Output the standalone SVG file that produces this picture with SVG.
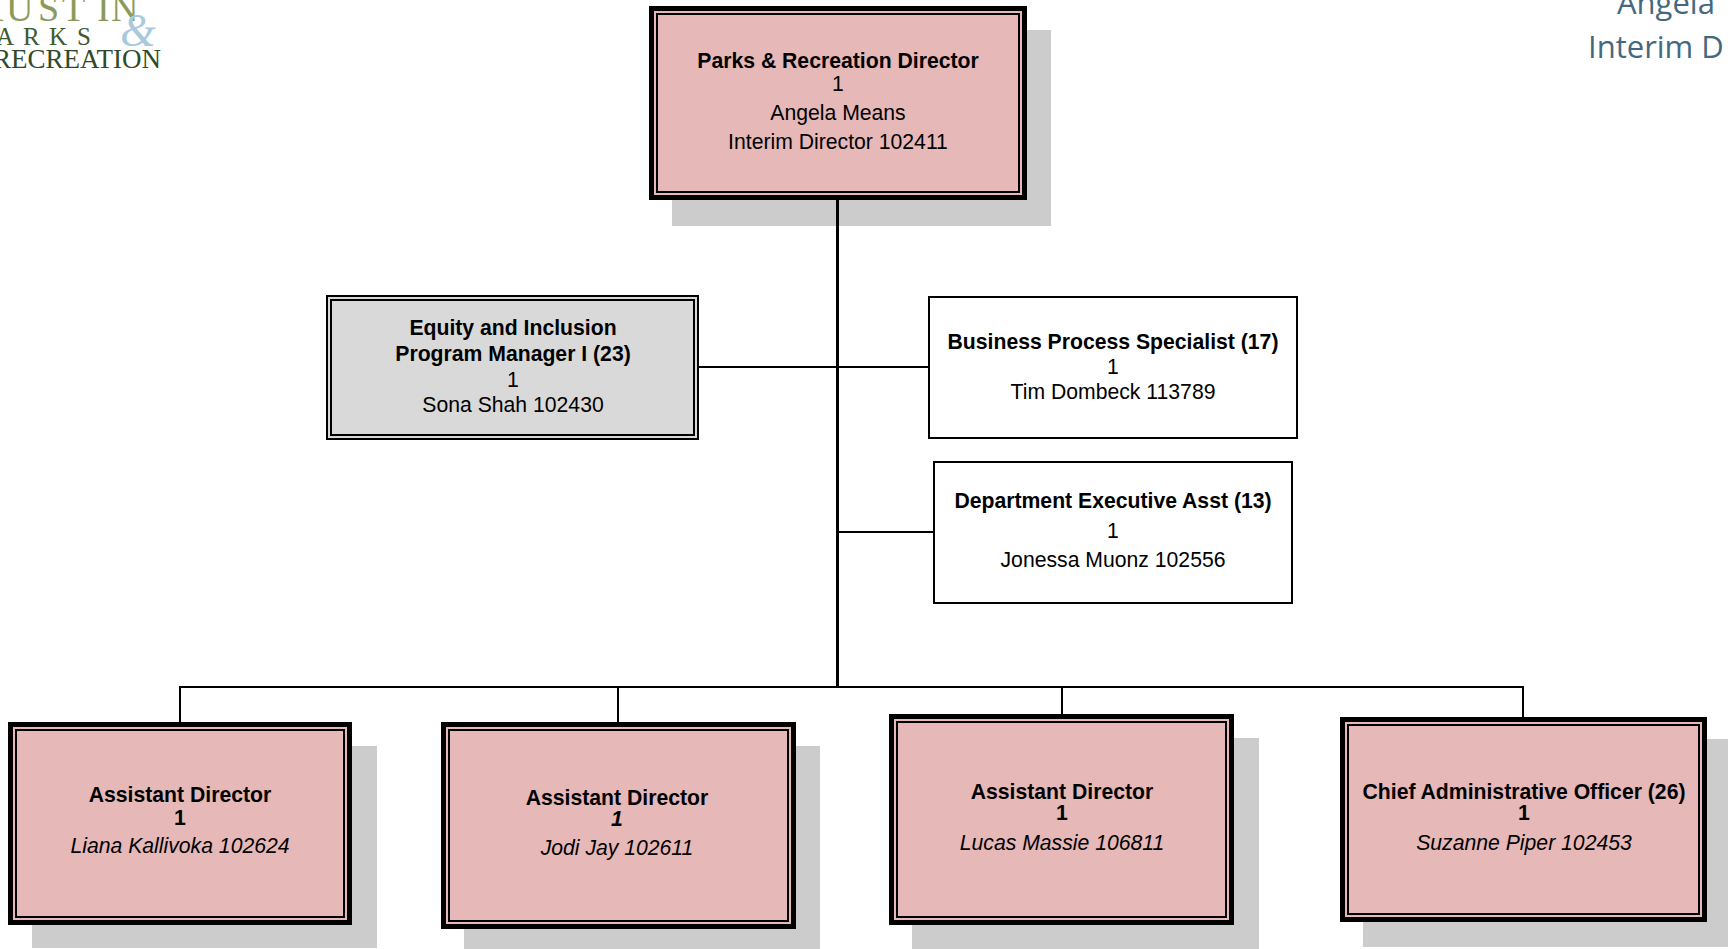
<svg xmlns="http://www.w3.org/2000/svg" width="1728" height="949" viewBox="0 0 1728 949">
<style>
.bg{fill:#ffffff}
.pink{fill:#e6b8b7}
.shadow{fill:#cccccc}
.ob{fill:none;stroke:#000;stroke-width:5}
.ib{fill:none;stroke:#000;stroke-width:2}
.thin{stroke:#000;stroke-width:2}
.t{font-family:"Liberation Sans",Arial,sans-serif;font-size:21.2px;text-anchor:middle;fill:#000}
.b{font-weight:bold}
.i{font-style:italic}
.logo{font-family:"Liberation Serif","Times New Roman",serif}
.hdr{font-family:"Open Sans","Noto Sans",sans-serif;font-size:31px;fill:#44697f}
#connectors line{stroke:#000;stroke-width:2}
</style>
<rect class="bg" x="0" y="0" width="1728" height="949"/>

<g id="logo">
  <text class="logo" font-size="38" fill="#8b9a5b" x="-24 6 38 62 97 111" y="21">AUSTIN</text>
  <text class="logo" font-size="25" fill="#3f5a34" x="-33 -4 23 49 77" y="45">PARKS</text>
  <text class="logo" font-size="46" font-style="italic" fill="#a9c9dd" x="120" y="46">&amp;</text>
  <text class="logo" font-size="27" fill="#2f4a2a" x="161" y="68" text-anchor="end">RECREATION</text>
</g>

<g id="header">
  <text class="hdr" x="1617" y="14">Angela</text>
  <text class="hdr" x="1588" y="58">Interim D</text>
</g>

<g id="director">
  <rect class="shadow" x="672" y="30" width="379" height="196"/>
  <rect class="pink" x="649" y="6" width="378" height="194"/>
  <rect class="ob" x="651.5" y="8.5" width="373" height="189"/>
  <rect class="ib" x="657" y="14" width="362" height="178"/>
  <text class="t b" x="838" y="68">Parks &amp; Recreation Director</text>
  <text class="t" x="838" y="91">1</text>
  <text class="t" x="838" y="120">Angela Means</text>
  <text class="t" x="838" y="149">Interim Director 102411</text>
</g>

<g id="equity">
  <rect x="326" y="295" width="373" height="145" fill="#d9d9d9"/>
  <rect x="327" y="296" width="371" height="143" fill="none" class="thin"/>
  <rect x="331" y="300" width="363" height="135" fill="none" class="thin"/>
  <text class="t b" x="513" y="335">Equity and Inclusion</text>
  <text class="t b" x="513" y="361">Program Manager I (23)</text>
  <text class="t" x="513" y="387">1</text>
  <text class="t" x="513" y="412">Sona Shah 102430</text>
</g>

<g id="business">
  <rect x="929" y="297" width="368" height="141" fill="#fff" class="thin"/>
  <text class="t b" x="1113" y="349">Business Process Specialist (17)</text>
  <text class="t" x="1113" y="374">1</text>
  <text class="t" x="1113" y="399">Tim Dombeck 113789</text>
</g>

<g id="exec-asst">
  <rect x="934" y="462" width="358" height="141" fill="#fff" class="thin"/>
  <text class="t b" x="1113" y="508">Department Executive Asst (13)</text>
  <text class="t" x="1113" y="538">1</text>
  <text class="t" x="1113" y="567">Jonessa Muonz 102556</text>
</g>

<g id="ad-liana">
  <rect class="shadow" x="32" y="746" width="345" height="202"/>
  <rect class="pink" x="8" y="722" width="344" height="203"/>
  <rect class="ob" x="10.5" y="724.5" width="339" height="198"/>
  <rect class="ib" x="16" y="730" width="328" height="187"/>
  <text class="t b" x="180" y="802">Assistant Director</text>
  <text class="t b" x="180" y="825">1</text>
  <text class="t i" x="180" y="853">Liana Kallivoka 102624</text>
</g>

<g id="ad-jodi">
  <rect class="shadow" x="464" y="746" width="356" height="203"/>
  <rect class="pink" x="441" y="722" width="355" height="207"/>
  <rect class="ob" x="443.5" y="724.5" width="350" height="202"/>
  <rect class="ib" x="449" y="730" width="339" height="191"/>
  <text class="t b" x="617" y="805">Assistant Director</text>
  <text class="t b i" x="617" y="826">1</text>
  <text class="t i" x="617" y="855">Jodi Jay 102611</text>
</g>

<g id="ad-lucas">
  <rect class="shadow" x="912" y="738" width="347" height="211"/>
  <rect class="pink" x="889" y="714" width="345" height="211"/>
  <rect class="ob" x="891.5" y="716.5" width="340" height="206"/>
  <rect class="ib" x="897" y="722" width="329" height="195"/>
  <text class="t b" x="1062" y="799">Assistant Director</text>
  <text class="t b" x="1062" y="820">1</text>
  <text class="t i" x="1062" y="850">Lucas Massie 106811</text>
</g>

<g id="cao">
  <rect class="shadow" x="1363" y="739" width="370" height="208"/>
  <rect class="pink" x="1340" y="717" width="367" height="205"/>
  <rect class="ob" x="1342.5" y="719.5" width="362" height="200"/>
  <rect class="ib" x="1348" y="725" width="351" height="189"/>
  <text class="t b" x="1524" y="799">Chief Administrative Officer (26)</text>
  <text class="t b" x="1524" y="820">1</text>
  <text class="t i" x="1524" y="850">Suzanne Piper 102453</text>
</g>

<g id="connectors">
  <line x1="837.5" y1="200" x2="837.5" y2="688" style="stroke-width:3"/>
  <line x1="699" y1="367" x2="928" y2="367"/>
  <line x1="837" y1="532" x2="933" y2="532"/>
  <line x1="179" y1="687" x2="1524" y2="687"/>
  <line x1="180" y1="687" x2="180" y2="722"/>
  <line x1="618" y1="687" x2="618" y2="722"/>
  <line x1="1062" y1="687" x2="1062" y2="714"/>
  <line x1="1523" y1="687" x2="1523" y2="717"/>
</g>
</svg>
